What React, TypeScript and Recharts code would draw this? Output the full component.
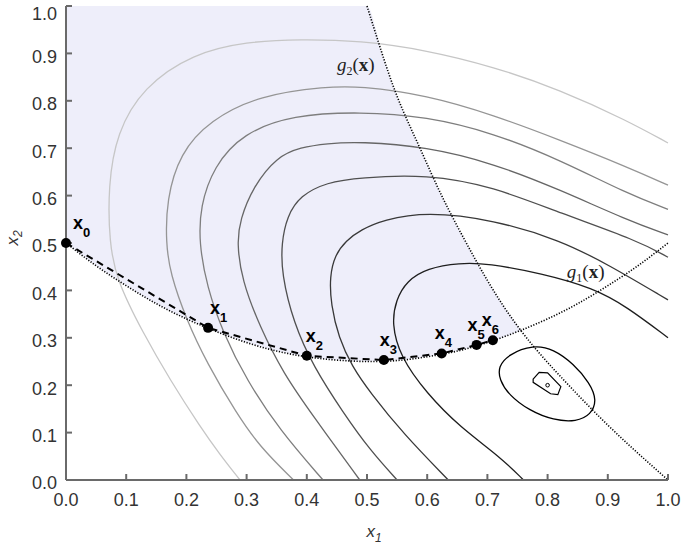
import React from "react";
import { ComposedChart, XAxis, YAxis, Line, Area, Scatter, ReferenceDot } from "recharts";

const axisTicks = [0, 0.1, 0.2, 0.3, 0.4, 0.5, 0.6, 0.7, 0.8, 0.9, 1];

// contour lines of f, outermost first, [x1, x2]
const contour1 = [[0.289, 0], [0.255, 0.055], [0.223, 0.112], [0.173, 0.211], [0.128, 0.31], [0.084, 0.422], [0.072, 0.5], [0.07, 0.62], [0.084, 0.732], [0.128, 0.829], [0.211, 0.9], [0.3, 0.925], [0.389, 0.93], [0.488, 0.927], [0.599, 0.907], [0.71, 0.872], [0.821, 0.823], [0.931, 0.759], [1, 0.711]];
const contour2 = [[0.378, 0], [0.322, 0.07], [0.283, 0.141], [0.234, 0.247], [0.2, 0.338], [0.173, 0.436], [0.166, 0.5], [0.167, 0.591], [0.189, 0.689], [0.239, 0.759], [0.322, 0.812], [0.433, 0.83], [0.488, 0.831], [0.599, 0.812], [0.71, 0.77], [0.821, 0.717], [0.931, 0.661], [1, 0.622]];
const contour3 = [[0.427, 0], [0.355, 0.105], [0.3, 0.211], [0.261, 0.31], [0.234, 0.408], [0.221, 0.5], [0.223, 0.577], [0.245, 0.661], [0.294, 0.732], [0.377, 0.77], [0.488, 0.777], [0.599, 0.767], [0.71, 0.732], [0.821, 0.675], [0.931, 0.605], [1, 0.571]];
const contour4 = [[0.488, 0], [0.411, 0.134], [0.361, 0.225], [0.322, 0.323], [0.292, 0.422], [0.284, 0.5], [0.289, 0.549], [0.311, 0.619], [0.35, 0.682], [0.39, 0.702], [0.433, 0.71], [0.488, 0.714], [0.599, 0.703], [0.71, 0.668], [0.821, 0.612], [0.931, 0.549], [1, 0.517]];
const contour5 = [[0.55, 0], [0.505, 0.063], [0.461, 0.141], [0.411, 0.239], [0.378, 0.331], [0.358, 0.436], [0.358, 0.5], [0.367, 0.556], [0.389, 0.6], [0.433, 0.628], [0.488, 0.638], [0.599, 0.645], [0.71, 0.619], [0.821, 0.563], [0.948, 0.506], [1, 0.47]];
const contour6 = [[0.635, 0], [0.56, 0.098], [0.505, 0.185], [0.475, 0.24], [0.453, 0.3], [0.44, 0.37], [0.438, 0.43], [0.447, 0.475], [0.465, 0.505], [0.49, 0.528], [0.527, 0.549], [0.599, 0.566], [0.71, 0.549], [0.821, 0.506], [0.9, 0.455], [1, 0.38]];
const contour7 = [[0.76, 0], [0.721, 0.049], [0.654, 0.112], [0.599, 0.183], [0.555, 0.26], [0.541, 0.33], [0.548, 0.38], [0.566, 0.42], [0.6, 0.447], [0.654, 0.458], [0.7, 0.457], [0.79, 0.436], [0.876, 0.405], [0.931, 0.366], [1, 0.3]];
const contour8 = [[0.718, 0.239], [0.735, 0.265], [0.776, 0.285], [0.81, 0.276], [0.843, 0.245], [0.87, 0.205], [0.882, 0.168], [0.872, 0.138], [0.848, 0.123], [0.81, 0.126], [0.77, 0.146], [0.735, 0.18], [0.72, 0.212]];
const contour9 = [[0.776, 0.213], [0.786, 0.227], [0.8, 0.226], [0.822, 0.197], [0.817, 0.18], [0.805, 0.182], [0.776, 0.206]];
const minimum = [0.8, 0.2];

// constraints g1 (bottom) and g2 (right)
const g1Curve = [[0, 0.5], [0.05, 0.452], [0.1, 0.41], [0.15, 0.372], [0.2, 0.34], [0.25, 0.313], [0.3, 0.29], [0.35, 0.272], [0.4, 0.26], [0.45, 0.253], [0.5, 0.25], [0.55, 0.252], [0.6, 0.26], [0.65, 0.272], [0.7, 0.29], [0.75, 0.313], [0.8, 0.34], [0.85, 0.372], [0.9, 0.41], [0.95, 0.452], [1, 0.5]];
const g2Curve = [[0.5, 1], [0.525, 0.9], [0.553, 0.8], [0.588, 0.7], [0.624, 0.6], [0.665, 0.5], [0.71, 0.4], [0.765, 0.3], [0.835, 0.2], [0.913, 0.1], [1, 0]];

// feasible region (shaded)
const regionX = [0, 0.05, 0.1, 0.15, 0.2, 0.25, 0.3, 0.35, 0.4, 0.45, 0.5, 0.525, 0.553, 0.588, 0.624, 0.665, 0.71, 0.756];
const regionLow = [0.5, 0.452, 0.41, 0.372, 0.34, 0.313, 0.29, 0.272, 0.26, 0.253, 0.25, 0.251, 0.253, 0.258, 0.266, 0.277, 0.293, 0.316];
const regionHigh = [1, 1, 1, 1, 1, 1, 1, 1, 1, 1, 1, 0.9, 0.8, 0.7, 0.6, 0.5, 0.4, 0.316];

// iterates x0..x6
const iterNames = ["0", "1", "2", "3", "4", "5", "6"];
const iterX = [0, 0.236, 0.4, 0.528, 0.624, 0.682, 0.709];
const iterY = [0.5, 0.321, 0.262, 0.253, 0.267, 0.285, 0.295];

const g1LabelAt = [0.832, 0.426];
const g2LabelAt = [0.45, 0.863];

const openContours = [contour1, contour2, contour3, contour4, contour5, contour6, contour7];
const contourStroke = ["#c6c6c6", "#959595", "#7e7e7e", "#666666", "#4f4f4f", "#383838", "#1e1e1e"];
const iterLabelDx = [7, 2, -1, -4, -7, -9, -11];

const sans = "'Liberation Sans', Arial, sans-serif";
const serif = "'Liberation Serif', 'Times New Roman', serif";
const axisColor = "#6a6a6a";

const toPts = (arr: number[][]) => arr.map(([x, y]) => ({ x, y }));
const regionPts = regionX.map((x, i) => ({ x, band: [regionLow[i], regionHigh[i]] }));
const iterPts = iterX.map((x, i) => ({ x, y: iterY[i] }));

const iterLabel = (k: number) => (p: any) => (
  <text x={p.cx + iterLabelDx[k]} y={p.cy - 14} fontFamily={sans} fontWeight="bold" fontSize={18} fill="#000">
    <tspan>x</tspan>
    <tspan fontSize={13} dy={8}>{iterNames[k]}</tspan>
  </text>
);

const gLabel = (n: string) => (p: any) => (
  <text x={p.cx} y={p.cy} fontFamily={serif} fontSize={19} fill="#222">
    <tspan fontStyle="italic">g</tspan>
    <tspan fontSize={12} dy={4}>{n}</tspan>
    <tspan dy={-4}>(</tspan>
    <tspan fontWeight="bold">x</tspan>
    <tspan>)</tspan>
  </text>
);

const XLabel = (p: any) => {
  const vb = p.viewBox;
  return (
    <text x={vb.x + vb.width / 2 + 7} y={537} textAnchor="middle" fontFamily={sans} fontStyle="italic" fontSize={17} fill="#333">
      <tspan>x</tspan>
      <tspan fontSize={12} dy={5}>1</tspan>
    </text>
  );
};

const YLabel = () => (
  <text transform="rotate(-90)" x={-238} y={18} textAnchor="middle" fontFamily={sans} fontStyle="italic" fontSize={17} fill="#333">
    <tspan>x</tspan>
    <tspan fontSize={12} dy={4}>2</tspan>
  </text>
);

const tickStyle = { fill: "#333", fontSize: 18, fontFamily: sans };
const fmt = (v: number) => v.toFixed(1);

export default function App() {
  return (
    <div style={{ position: "absolute", left: 0, top: 0, background: "#fff" }}>
      <ComposedChart width={683} height={544} margin={{ top: 6, right: 15, bottom: 0, left: 0 }}>
        <XAxis
          dataKey="x"
          type="number"
          domain={[0, 1]}
          ticks={axisTicks}
          tickFormatter={fmt}
          height={64}
          stroke={axisColor}
          strokeWidth={2}
          tickSize={-6}
          tickMargin={19}
          tick={tickStyle}
          label={XLabel}
        />
        <XAxis xAxisId="top" orientation="top" type="number" domain={[0, 1]} ticks={axisTicks} height={0} stroke={axisColor} strokeWidth={2} tickSize={-6} tick={() => <g />} />
        <YAxis
          dataKey="y"
          type="number"
          domain={[0, 1]}
          ticks={axisTicks}
          tickFormatter={fmt}
          width={66}
          stroke={axisColor}
          strokeWidth={2}
          tickSize={-6}
          tickMargin={15}
          tick={{ ...tickStyle, dy: 3 }}
          label={YLabel}
        />
        <YAxis yAxisId="right" orientation="right" type="number" domain={[0, 1]} ticks={axisTicks} width={0} stroke={axisColor} strokeWidth={2} tickSize={-6} tick={() => <g />} />

        <Area data={regionPts} dataKey="band" type="monotone" stroke="none" fill="#EEEEFA" fillOpacity={1} isAnimationActive={false} activeDot={false} />

        {openContours.map((c, i) => (
          <Line
            key={"c" + i}
            data={toPts(c)}
            dataKey="y"
            type="basis"
            stroke={contourStroke[i]}
            strokeWidth={1.3}
            dot={false}
            activeDot={false}
            isAnimationActive={false}
          />
        ))}
        <Line data={toPts(contour8)} dataKey="y" type="basisClosed" stroke="#000" strokeWidth={1.3} dot={false} activeDot={false} isAnimationActive={false} />
        <Line data={toPts(contour9)} dataKey="y" type="linearClosed" stroke="#000" strokeWidth={1.2} dot={false} activeDot={false} isAnimationActive={false} />
        <Scatter
          data={[{ x: minimum[0], y: minimum[1] }]}
          shape={(p: any) => <circle cx={p.cx} cy={p.cy} r={1.8} fill="none" stroke="#000" strokeWidth={1} />}
          isAnimationActive={false}
        />

        <Line data={toPts(g1Curve)} dataKey="y" type="natural" stroke="#000" strokeWidth={1.6} strokeDasharray="1.2 1.6" dot={false} activeDot={false} isAnimationActive={false} />
        <Line data={toPts(g2Curve)} dataKey="y" type="natural" stroke="#000" strokeWidth={1.6} strokeDasharray="1.2 1.6" dot={false} activeDot={false} isAnimationActive={false} />

        <Line data={iterPts} dataKey="y" type="linear" stroke="#000" strokeWidth={2} strokeDasharray="7 5" dot={false} activeDot={false} isAnimationActive={false} />
        <Scatter
          data={iterPts}
          shape={(p: any) => <circle cx={p.cx} cy={p.cy} r={5} fill="#000" />}
          isAnimationActive={false}
        />

        {iterX.map((x, k) => (
          <ReferenceDot key={"l" + k} x={x} y={iterY[k]} r={0} ifOverflow="visible" shape={iterLabel(k)} />
        ))}
        <ReferenceDot x={g1LabelAt[0]} y={g1LabelAt[1]} r={0} ifOverflow="visible" shape={gLabel("1")} />
        <ReferenceDot x={g2LabelAt[0]} y={g2LabelAt[1]} r={0} ifOverflow="visible" shape={gLabel("2")} />
      </ComposedChart>
    </div>
  );
}
